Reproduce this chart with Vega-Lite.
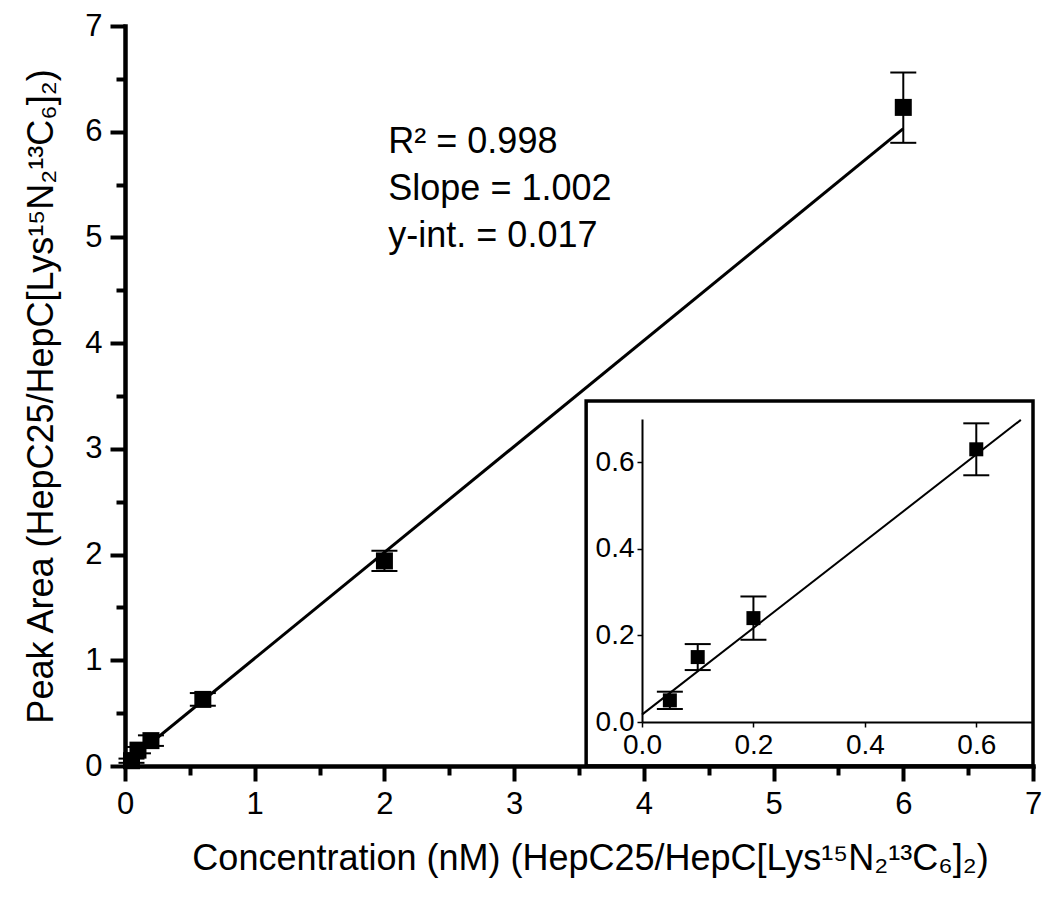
{
  "$schema": "https://vega.github.io/schema/vega-lite/v6.json",
  "width": 908,
  "height": 740,
  "autosize": {"type": "none"},
  "padding": {"left": 125, "top": 26, "right": 9, "bottom": 144},
  "background": "white",
  "config": {"font": "Liberation Sans", "view": {"stroke": null}, "axis": {"grid": false}},
  "datasets": {
    "points": [
      {"conc": 0.05, "area": 0.05, "lo": 0.03, "hi": 0.07},
      {"conc": 0.1, "area": 0.15, "lo": 0.12, "hi": 0.18},
      {"conc": 0.2, "area": 0.24, "lo": 0.19, "hi": 0.29},
      {"conc": 0.6, "area": 0.63, "lo": 0.57, "hi": 0.69},
      {"conc": 2, "area": 1.94, "lo": 1.845, "hi": 2.035},
      {"conc": 6, "area": 6.23, "lo": 5.895, "hi": 6.56}
    ],
    "fitMain": [{"conc": 0, "area": 0.017}, {"conc": 6, "area": 6.029}],
    "fitInset": [{"conc": 0, "area": 0.017}, {"conc": 0.68, "area": 0.698}],
    "note": [{"conc": 2.03, "area": 5.8, "text": "R² = 0.998\nSlope = 1.002\ny-int. = 0.017"}],
    "box": [{"conc": 3.555, "conc2": 7, "area": 0, "area2": 3.453}]
  },
  "resolve": {
    "scale": {"x": "independent", "y": "independent"},
    "axis": {"x": "independent", "y": "independent"}
  },
  "layer": [
    {
      "resolve": {"axis": {"x": "independent", "y": "independent"}},
      "encoding": {
        "x": {"field": "conc", "type": "quantitative", "scale": {"domain": [0, 7], "nice": false}, "axis": null},
        "y": {"field": "area", "type": "quantitative", "scale": {"domain": [0, 7], "nice": false}, "axis": null}
      },
      "layer": [
        {"data": {"name": "fitMain"}, "mark": {"type": "line", "color": "black", "strokeWidth": 3},
         "encoding": {
           "x": {
             "field": "conc", "type": "quantitative",
             "scale": {"domain": [0, 7], "nice": false},
             "axis": {
               "title": "Concentration (nM) (HepC25/HepC[Lys¹⁵N₂¹³C₆]₂)",
               "orient": "bottom", "zindex": 1,
               "values": [0, 1, 2, 3, 4, 5, 6, 7], "format": "d",
               "tickSize": 15, "tickWidth": 4, "tickColor": "black",
               "domainWidth": 4.5, "domainColor": "black", "domainCap": "square",
               "labelFontSize": 31, "labelColor": "black", "labelPadding": 8,
               "labelFlush": false, "labelOverlap": false,
               "titleFontSize": 36, "titleFontWeight": "normal", "titleColor": "black", "titlePadding": 22,
               "titleX": 465
             }
           },
           "y": {
             "field": "area", "type": "quantitative",
             "scale": {"domain": [0, 7], "nice": false},
             "axis": {
               "title": "Peak Area (HepC25/HepC[Lys¹⁵N₂¹³C₆]₂)",
               "orient": "left", "zindex": 1,
               "values": [0, 1, 2, 3, 4, 5, 6, 7], "format": "d",
               "tickSize": 15, "tickWidth": 4, "tickColor": "black",
               "domainWidth": 4.5, "domainColor": "black", "domainCap": "square",
               "labelFontSize": 31, "labelColor": "black", "labelPadding": 8,
               "labelFlush": false, "labelOverlap": false,
               "titleFontSize": 36, "titleFontWeight": "normal", "titleColor": "black", "titlePadding": 24
             }
           }
         }},
        {"data": {"name": "points"}, "mark": {"type": "rule", "color": "black", "strokeWidth": 2},
         "encoding": {"y": {"field": "lo", "type": "quantitative", "axis": null}, "y2": {"field": "hi"}}},
        {"data": {"name": "points"}, "mark": {"type": "tick", "orient": "horizontal", "color": "black", "size": 26, "thickness": 2, "opacity": 1},
         "encoding": {"y": {"field": "lo", "type": "quantitative", "axis": null}}},
        {"data": {"name": "points"}, "mark": {"type": "tick", "orient": "horizontal", "color": "black", "size": 26, "thickness": 2, "opacity": 1},
         "encoding": {"y": {"field": "hi", "type": "quantitative", "axis": null}}},
        {"data": {"name": "points"}, "mark": {"type": "point", "shape": "square", "filled": true, "color": "black", "size": 289, "opacity": 1}},
        {"data": {"name": "note"}, "mark": {"type": "text", "align": "left", "baseline": "alphabetic", "fontSize": 36, "lineHeight": 47, "lineBreak": "\n", "color": "black"},
         "encoding": {"text": {"field": "text"}}},
        {"data": {"name": "box"}, "mark": {"type": "rect", "fill": "white", "stroke": "black", "strokeWidth": 3.5},
         "encoding": {
           "x": {
             "field": "conc", "type": "quantitative",
             "scale": {"domain": [0, 7], "nice": false},
             "axis": {
               "title": null, "orient": "bottom", "zindex": 1,
               "values": [0.5, 1.5, 2.5, 3.5, 4.5, 5.5, 6.5],
               "labels": false, "domain": false,
               "tickSize": 9, "tickWidth": 4, "tickColor": "black"
             }
           },
           "y": {
             "field": "area", "type": "quantitative",
             "scale": {"domain": [0, 7], "nice": false},
             "axis": {
               "title": null, "orient": "left", "zindex": 1,
               "values": [0.5, 1.5, 2.5, 3.5, 4.5, 5.5, 6.5],
               "labels": false, "domain": false,
               "tickSize": 9, "tickWidth": 4, "tickColor": "black"
             }
           },
           "x2": {"field": "conc2"}, "y2": {"field": "area2"}
         }}
      ]
    },
    {
      "resolve": {"axis": {"x": "independent", "y": "independent"}},
      "encoding": {
        "x": {"field": "conc", "type": "quantitative", "scale": {"domain": [0, 0.7], "range": [517, 907], "nice": false}, "axis": null},
        "y": {"field": "area", "type": "quantitative", "scale": {"domain": [0, 0.7], "range": [696, 393], "nice": false}, "axis": null}
      },
      "layer": [
        {"data": {"name": "fitInset"}, "mark": {"type": "line", "color": "black", "strokeWidth": 2},
         "encoding": {
           "x": {
             "field": "conc", "type": "quantitative",
             "scale": {"domain": [0, 0.7], "range": [517, 907], "nice": false},
             "axis": {
               "title": null, "orient": "bottom", "offset": -44, "zindex": 2,
               "values": [0, 0.2, 0.4, 0.6], "format": ".1f",
               "tickSize": 5, "tickWidth": 1.5, "tickColor": "black",
               "domainWidth": 2, "domainColor": "black",
               "labelFontSize": 28, "labelColor": "black", "labelPadding": 4,
               "labelFlush": false, "labelOverlap": false
             }
           },
           "y": {
             "field": "area", "type": "quantitative",
             "scale": {"domain": [0, 0.7], "range": [696, 393], "nice": false},
             "axis": {
               "title": null, "orient": "left", "offset": -517, "zindex": 2,
               "values": [0, 0.2, 0.4, 0.6], "format": ".1f",
               "tickSize": 5, "tickWidth": 1.5, "tickColor": "black",
               "domainWidth": 2, "domainColor": "black",
               "labelFontSize": 28, "labelColor": "black", "labelPadding": 3,
               "labelFlush": false, "labelOverlap": false
             }
           }
         }},
        {"data": {"name": "points"}, "transform": [{"filter": "datum.conc < 1"}], "mark": {"type": "rule", "color": "black", "strokeWidth": 2},
         "encoding": {"y": {"field": "lo", "type": "quantitative", "axis": null}, "y2": {"field": "hi"}}},
        {"data": {"name": "points"}, "transform": [{"filter": "datum.conc < 1"}], "mark": {"type": "tick", "orient": "horizontal", "color": "black", "size": 26, "thickness": 2, "opacity": 1},
         "encoding": {"y": {"field": "lo", "type": "quantitative", "axis": null}}},
        {"data": {"name": "points"}, "transform": [{"filter": "datum.conc < 1"}], "mark": {"type": "tick", "orient": "horizontal", "color": "black", "size": 26, "thickness": 2, "opacity": 1},
         "encoding": {"y": {"field": "hi", "type": "quantitative", "axis": null}}},
        {"data": {"name": "points"}, "transform": [{"filter": "datum.conc < 1"}], "mark": {"type": "point", "shape": "square", "filled": true, "color": "black", "size": 196, "opacity": 1}}
      ]
    }
  ]
}
